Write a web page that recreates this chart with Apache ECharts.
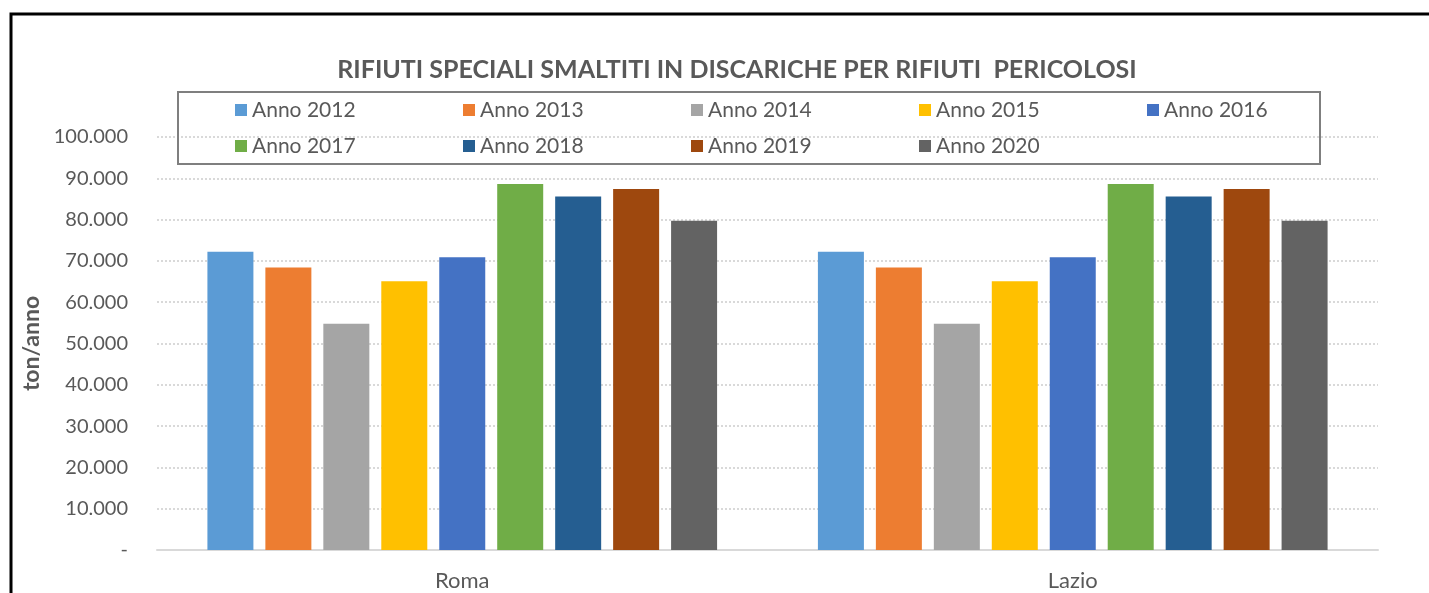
<!DOCTYPE html>
<html>
<head>
<meta charset="utf-8">
<script src="https://cdn.jsdelivr.net/npm/echarts@6/dist/echarts.min.js"></script>
<style>
  html, body { margin: 0; padding: 0; background: #fff; }
  #chart { width: 1429px; height: 593px; }
</style>
</head>
<body>
<div id="chart"></div>
<script>
// dati
const categories = ['Roma', 'Lazio']
const years = ['Anno 2012', 'Anno 2013', 'Anno 2014', 'Anno 2015', 'Anno 2016', 'Anno 2017', 'Anno 2018', 'Anno 2019', 'Anno 2020']
const romaValues = [72200, 68400, 54800, 65100, 70900, 88600, 85600, 87400, 79700]
const lazioValues = [72200, 68400, 54800, 65100, 70900, 88600, 85600, 87400, 79700]
const colors = ['#5B9BD5', '#ED7D31', '#A5A5A5', '#FFC000', '#4472C4', '#70AD47', '#255E91', '#9E480E', '#636363']

const fontFamily = 'Lato, "Open Sans", sans-serif'
const textColor = '#595959'

const chart = echarts.init(document.getElementById('chart'))

// formato italiano: 10.000, zero come trattino
function formatTick(value) {
  if (value === 0) return '-'
  return String(value).replace(/\B(?=(\d{3})+(?!\d))/g, '.')
}

const series = years.map((name, i) => ({
  name,
  type: 'bar',
  data: [romaValues[i], lazioValues[i]],
  itemStyle: { color: colors[i] },
  barWidth: 46,
  barGap: '26%'
}))

chart.setOption({
  animation: false,
  title: {
    text: 'RIFIUTI SPECIALI SMALTITI IN DISCARICHE PER RIFIUTI  PERICOLOSI',
    left: 732,
    textAlign: 'center',
    top: 52,
    textStyle: { fontFamily, fontSize: 25, fontWeight: 'bold', color: textColor }
  },
  legend: {
    data: years,
    left: 235,
    top: 92,
    width: 1150,
    padding: 0,
    itemGap: 0,
    itemWidth: 12,
    itemHeight: 12,
    icon: 'rect',
    textStyle: { fontFamily, fontSize: 21, color: textColor, width: 211, lineHeight: 36 }
  },
  grid: { left: 157, right: 51, top: 137, bottom: 43 },
  xAxis: {
    type: 'category',
    data: categories,
    axisTick: { show: false },
    axisLine: { lineStyle: { color: '#D9D9D9', width: 2 } },
    axisLabel: { fontFamily, fontSize: 22, color: textColor, margin: 20 }
  },
  yAxis: {
    type: 'value',
    min: 0,
    max: 100000,
    interval: 10000,
    name: 'ton/anno',
    nameLocation: 'middle',
    nameGap: 114,
    nameTextStyle: { fontFamily, fontSize: 23, fontWeight: 'bold', color: textColor },
    axisLine: { show: false },
    axisTick: { show: false },
    axisLabel: { fontFamily, fontSize: 20, color: textColor, margin: 29, formatter: formatTick },
    splitLine: { lineStyle: { color: '#D9D9D9', width: 2, type: [2, 2] } }
  },
  graphic: [
    // riquadro della legenda
    {
      type: 'rect',
      shape: { x: 178, y: 92, width: 1142, height: 72 },
      style: { fill: 'rgba(255,255,255,0)', stroke: '#7F7F7F', lineWidth: 2 },
      z: 100
    },
    // bordo esterno (solo sinistra e sopra visibili)
    {
      type: 'polyline',
      shape: { points: [[11, 593], [11, 14], [1429, 14]] },
      style: { stroke: '#000', lineWidth: 3, fill: null },
      z: 100
    }
  ],
  series
})
</script>
</body>
</html>
